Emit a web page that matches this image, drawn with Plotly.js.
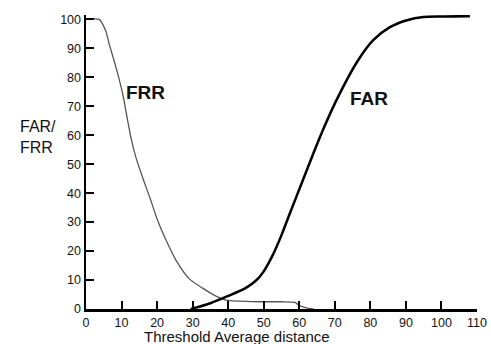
<!DOCTYPE html>
<html><head><meta charset="utf-8">
<script src="https://cdn.plot.ly/plotly-3.0.1.min.js"></script>
<style>html,body{margin:0;padding:0;background:#fff}#chart{width:491px;height:344px}</style>
</head><body><div id="chart"></div>
<script>
// Data
const frrX = [0, 3.7, 5.5, 6.5, 8.4, 10.3, 11.7, 12.6, 14, 16.1, 18.2, 20.1, 22.5, 25.3, 29, 32.8, 37, 39.4, 45, 50, 55, 58.8, 60, 62, 64];
const frrY = [100, 100, 96.2, 91.6, 83.6, 74.4, 65.2, 59.4, 52.5, 44.8, 37.6, 30.7, 23.8, 16.9, 10.5, 7.2, 4.2, 3.1, 2.6, 2.5, 2.5, 2.3, 1.2, 0.4, 0];
const farX = [29.5, 35, 40, 45, 48, 50, 52.5, 55, 57.5, 60.7, 63.9, 66.8, 70.5, 76.2, 80.8, 85.5, 90.3, 94.9, 100, 108];
const farY = [0, 2, 4.5, 7.3, 10, 13, 18.5, 25.5, 33.5, 43.5, 53.5, 62.2, 72.2, 85.2, 92.8, 97.3, 99.7, 100.8, 101, 101.1];
const xTicks = [0, 10, 20, 30, 40, 50, 60, 70, 80, 90, 100, 110];
const yTicks = [0, 10, 20, 30, 40, 50, 60, 70, 80, 90, 100];
const xTitle = "Threshold Average distance";
const yTitle = "FAR/<br>FRR";

const font = "Liberation Sans, Arial, sans-serif";
const traces = [
  {x: frrX, y: frrY, mode: "lines", line: {color: "#555", width: 1.3, shape: "spline", smoothing: 0.6}, hoverinfo: "skip"},
  {x: farX, y: farY, mode: "lines", line: {color: "#000", width: 2.5, shape: "spline", smoothing: 0.8}, hoverinfo: "skip"}
];
const axisCommon = {
  showgrid: false, zeroline: false, showline: true, linecolor: "#000", linewidth: 2.5,
  ticks: "inside", ticklen: 8, tickwidth: 2, tickcolor: "#000",
  tickfont: {family: font, size: 12.5, color: "#111"}, tickmode: "array"
};
const layout = {
  width: 491, height: 344,
  margin: {l: 86, r: 14, t: 15, b: 35},
  paper_bgcolor: "#fff", plot_bgcolor: "#fff",
  showlegend: false,
  xaxis: Object.assign({}, axisCommon, {range: [0, 110], tickvals: xTicks, ticktext: xTicks.map(String)}),
  yaxis: Object.assign({}, axisCommon, {range: [0, 101.5], tickvals: yTicks, ticktext: yTicks.map(String)}),
  annotations: [
    {text: xTitle, xref: "paper", yref: "paper", x: 0.387, y: -0.093, xanchor: "center", yanchor: "middle", showarrow: false, font: {family: font, size: 15, color: "#111"}},
    {text: yTitle, xref: "paper", yref: "paper", x: -0.174, y: 0.585, xanchor: "left", yanchor: "middle", align: "left", showarrow: false, font: {family: font, size: 16, color: "#111"}},
    {text: "<b>FRR</b>", x: 16.8, y: 74.8, xref: "x", yref: "y", showarrow: false, font: {family: font, size: 19, color: "#111"}},
    {text: "<b>FAR</b>", x: 79.6, y: 72.8, xref: "x", yref: "y", showarrow: false, font: {family: font, size: 19, color: "#111"}}
  ]
};
Plotly.newPlot("chart", traces, layout, {staticPlot: true, displayModeBar: false});
</script>
</body></html>
